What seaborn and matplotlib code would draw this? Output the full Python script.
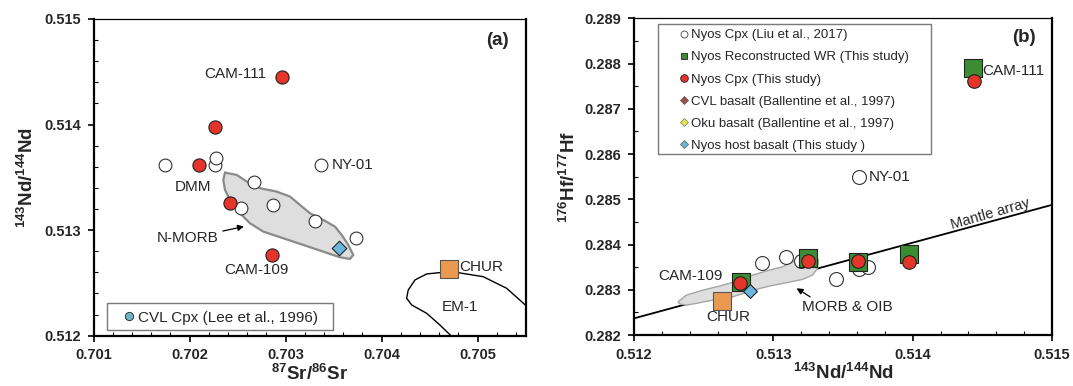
import numpy as np
import pandas as pd
import matplotlib
matplotlib.use("Agg")
import matplotlib.pyplot as plt
from matplotlib.lines import Line2D
from matplotlib.patches import Rectangle
from matplotlib.ticker import MultipleLocator, FormatStrFormatter
import seaborn as sns

# ---------------- Data: panel (a) Sr-Nd ----------------
a_liu_sr = [0.701743, 0.702264, 0.702271, 0.703365, 0.702670, 0.702531, 0.702865, 0.703308, 0.703732]
a_liu_nd = [0.513618, 0.513618, 0.513681, 0.513618, 0.513454, 0.513213, 0.513239, 0.513090, 0.512923]
a_cpx_sr = [0.702961, 0.702264, 0.702097, 0.702417, 0.702860]
a_cpx_nd = [0.514455, 0.513981, 0.513618, 0.513255, 0.512765]
a_host_sr = [0.703555]
a_host_nd = [0.512834]
a_chur_sr = [0.704701]
a_chur_nd = [0.512629]

# N-MORB field outline
nmorb_sr = [0.702368, 0.702490, 0.702594, 0.702732, 0.702906, 0.703045, 0.703149, 0.703253,
            0.703392, 0.703514, 0.703583, 0.703652, 0.703704, 0.703670, 0.703566, 0.703392,
            0.703183, 0.702975, 0.702767, 0.702628, 0.702524, 0.702420, 0.702368, 0.702350]
nmorb_nd = [0.513545, 0.513523, 0.513460, 0.513397, 0.513365, 0.513318, 0.513239, 0.513160,
            0.513097, 0.513033, 0.512955, 0.512860, 0.512765, 0.512727, 0.512743, 0.512796,
            0.512860, 0.512923, 0.512986, 0.513065, 0.513160, 0.513286, 0.513381, 0.513476]

# EM-1 curve
em1_sr = [0.704722, 0.704607, 0.704469, 0.704313, 0.704260, 0.704277, 0.704347, 0.704469,
          0.704600, 0.704701, 0.704798, 0.705058, 0.705302, 0.705500]
em1_nd = [0.512000, 0.512101, 0.512212, 0.512291, 0.512355, 0.512433, 0.512528, 0.512585,
          0.512597, 0.512600, 0.512597, 0.512559, 0.512449, 0.512288]

# ---------------- Data: panel (b) Nd-Hf ----------------
b_liu_nd = [0.513614, 0.512919, 0.513091, 0.513198, 0.513448, 0.513614, 0.513681]
b_liu_hf = [0.285493, 0.283595, 0.283727, 0.283639, 0.283229, 0.283449, 0.283507]
b_wr_nd = [0.514436, 0.513245, 0.512769, 0.513607, 0.513976]
b_wr_hf = [0.287908, 0.283692, 0.283176, 0.283610, 0.283787]
b_cpx_nd = [0.514443, 0.513250, 0.512764, 0.513607, 0.513971]
b_cpx_hf = [0.287625, 0.283639, 0.283140, 0.283632, 0.283617]
b_host_nd = [0.512834]
b_host_hf = [0.282977]
b_chur_nd = [0.512631]
b_chur_hf = [0.282757]

mantle_nd = [0.512000, 0.515000]
mantle_hf = [0.282368, 0.284877]

morb_nd = [0.512316, 0.512376, 0.512495, 0.512614, 0.512721, 0.512852, 0.512971, 0.513066,
           0.513138, 0.513186, 0.513234, 0.513293, 0.513324, 0.513316, 0.513281, 0.513209,
           0.513091, 0.512971, 0.512876, 0.512709, 0.512566, 0.512448, 0.512376, 0.512329]
morb_hf = [0.282735, 0.282882, 0.282993, 0.283081, 0.283176, 0.283324, 0.283434, 0.283507,
           0.283617, 0.283692, 0.283765, 0.283765, 0.283655, 0.283471, 0.283324, 0.283229,
           0.283154, 0.283081, 0.283008, 0.282845, 0.282772, 0.282699, 0.282662, 0.282684]

legend_b_labels = ["Nyos Cpx (Liu et al., 2017)", "Nyos Reconstructed WR (This study)",
                   "Nyos Cpx (This study)", "CVL basalt (Ballentine et al., 1997)",
                   "Oku basalt (Ballentine et al., 1997)", "Nyos host basalt (This study )"]
legend_a_label = "CVL Cpx (Lee et al., 1996)"

# ---------------- Style ----------------
sns.set_style("ticks")
plt.rcParams["font.family"] = ["Liberation Sans", "DejaVu Sans"]
plt.rcParams["mathtext.fontset"] = "custom"
plt.rcParams["mathtext.rm"] = "Liberation Sans"
plt.rcParams["mathtext.bf"] = "Liberation Sans:bold"
plt.rcParams["mathtext.it"] = "Liberation Sans:italic"

RED = "#E5352A"
GREEN = "#3C8C34"
ORANGE = "#E99A50"
BLUE = "#6BB6DD"
TEAL = "#6FB3C2"
BROWN = "#A34A4E"
YELLOW = "#E6E84A"
EDGE = "#222222"

fig = plt.figure(figsize=(10.73, 3.86), dpi=100)
axa = fig.add_axes([0.0873, 0.1303, 0.4026, 0.8205])
axb = fig.add_axes([0.5909, 0.1321, 0.3896, 0.8205])


def style_axes(ax, xmaj, xmin, ymaj, ymin):
    ax.xaxis.set_major_locator(MultipleLocator(xmaj))
    ax.xaxis.set_minor_locator(MultipleLocator(xmin))
    ax.yaxis.set_major_locator(MultipleLocator(ymaj))
    ax.yaxis.set_minor_locator(MultipleLocator(ymin))
    ax.xaxis.set_major_formatter(FormatStrFormatter("%.3f"))
    ax.yaxis.set_major_formatter(FormatStrFormatter("%.3f"))
    ax.tick_params(which="major", direction="out", length=4, width=1.2, labelsize=10.5, pad=5,
                   color="black")
    ax.tick_params(which="minor", direction="in", length=3, width=0.8, color="black")
    ax.tick_params(top=False, right=False, which="both")
    for lab in ax.get_xticklabels() + ax.get_yticklabels():
        lab.set_fontweight("bold")
    for s in ["left", "bottom", "right"]:
        ax.spines[s].set_linewidth(1.6)
        ax.spines[s].set_color("black")
        ax.spines[s].set_visible(True)
    ax.spines["top"].set_linewidth(0.9)
    ax.spines["top"].set_color("black")
    ax.spines["top"].set_visible(True)


def legend_box(ax, x0, y0, x1, y1):
    ax.add_patch(Rectangle((x0, y0), x1 - x0, y1 - y0, transform=ax.transAxes,
                           facecolor="white", edgecolor="#7A7A7A", lw=1.0, zorder=6))


# ---------------- Panel (a) ----------------
ax = axa
ax.set_xlim(0.701, 0.7055)
ax.set_ylim(0.512, 0.515)
ax.fill(nmorb_sr, nmorb_nd, facecolor="#DEDEDE", edgecolor="#8A8A8A", lw=1.6, zorder=1)
ax.plot(em1_sr, em1_nd, color="black", lw=1.0, zorder=1)
sns.scatterplot(x=a_liu_sr, y=a_liu_nd, ax=ax, marker="o", s=85, color="white",
                edgecolor="#333333", linewidth=0.8, zorder=3, legend=False)
sns.scatterplot(x=a_cpx_sr, y=a_cpx_nd, ax=ax, marker="o", s=90, color=RED,
                edgecolor=EDGE, linewidth=0.8, zorder=4, legend=False)
sns.scatterplot(x=a_host_sr, y=a_host_nd, ax=ax, marker="D", s=55, color=BLUE,
                edgecolor=EDGE, linewidth=0.8, zorder=4, legend=False)
sns.scatterplot(x=a_chur_sr, y=a_chur_nd, ax=ax, marker="s", s=180, color=ORANGE,
                edgecolor="#555555", linewidth=0.8, zorder=4, legend=False)

tfs = 11
ax.text(0.702802, 0.514481, "CAM-111", ha="right", va="center", fontsize=tfs)
ax.text(0.702034, 0.513409, "DMM", ha="center", va="center", fontsize=tfs)
ax.text(0.703479, 0.513618, "NY-01", ha="left", va="center", fontsize=tfs)
ax.text(0.701977, 0.512923, "N-MORB", ha="center", va="center", fontsize=tfs)
ax.annotate("", xy=(0.702594, 0.513040), xytext=(0.702318, 0.512986),
            arrowprops=dict(arrowstyle="-|>", color="black", lw=0.9, mutation_scale=9))
ax.text(0.702691, 0.512623, "CAM-109", ha="center", va="center", fontsize=tfs)
ax.text(0.704805, 0.512654, "CHUR", ha="left", va="center", fontsize=tfs)
ax.text(0.704816, 0.512269, "EM-1", ha="center", va="center", fontsize=tfs)
ax.text(0.96, 0.932, "(a)", transform=ax.transAxes, ha="right", va="center",
        fontsize=13.5, fontweight="bold")

legend_box(ax, 0.0315, 0.018, 0.5546, 0.1023)
h_a = [Line2D([], [], ls="", marker="o", ms=6, mfc=TEAL, mec=EDGE, mew=0.6)]
leg = ax.legend(h_a, [legend_a_label], loc="center left", bbox_to_anchor=(0.0676, 0.057),
                fontsize=11, frameon=False, borderpad=0, handlelength=0.8,
                handletextpad=0.2, borderaxespad=0)
leg.set_zorder(7)

style_axes(ax, 0.001, 0.0002, 0.001, 0.0002)
ax.set_xlabel(r"$\mathbf{^{87}Sr/^{86}Sr}$", fontsize=13.5, labelpad=1)
ax.set_ylabel(r"$\mathbf{^{143}Nd/^{144}Nd}$", fontsize=13.5, labelpad=5)

# ---------------- Panel (b) ----------------
ax = axb
ax.set_xlim(0.512, 0.515)
ax.set_ylim(0.282, 0.289)
ax.plot(mantle_nd, mantle_hf, color="black", lw=1.3, zorder=1)
ax.fill(morb_nd, morb_hf, facecolor="#DEDEDE", edgecolor="#A5A5A5", lw=1.0, zorder=2)
sns.scatterplot(x=b_liu_nd, y=b_liu_hf, ax=ax, marker="o", s=100, color="white",
                edgecolor="#333333", linewidth=0.8, zorder=3, legend=False)
sns.scatterplot(x=b_wr_nd, y=b_wr_hf, ax=ax, marker="s", s=150, color=GREEN,
                edgecolor=EDGE, linewidth=0.8, zorder=4, legend=False)
sns.scatterplot(x=b_cpx_nd, y=b_cpx_hf, ax=ax, marker="o", s=95, color=RED,
                edgecolor=EDGE, linewidth=0.8, zorder=5, legend=False)
sns.scatterplot(x=b_host_nd, y=b_host_hf, ax=ax, marker="D", s=50, color=BLUE,
                edgecolor=EDGE, linewidth=0.8, zorder=5, legend=False)
sns.scatterplot(x=b_chur_nd, y=b_chur_hf, ax=ax, marker="s", s=180, color=ORANGE,
                edgecolor="#555555", linewidth=0.8, zorder=5, legend=False)

ax.text(0.514502, 0.287846, "CAM-111", ha="left", va="center", fontsize=tfs)
ax.text(0.513686, 0.285486, "NY-01", ha="left", va="center", fontsize=tfs)
ax.text(0.512407, 0.283302, "CAM-109", ha="center", va="center", fontsize=tfs)
ax.text(0.512679, 0.282390, "CHUR", ha="center", va="center", fontsize=tfs)
ax.text(0.513529, 0.282624, "MORB & OIB", ha="center", va="center", fontsize=tfs)
ax.annotate("", xy=(0.513150, 0.283066), xytext=(0.513281, 0.282810),
            arrowprops=dict(arrowstyle="-|>", color="black", lw=0.9, mutation_scale=9))
ax.text(0.514555, 0.284680, "Mantle array", ha="center", va="center", fontsize=10.5,
        rotation=16, rotation_mode="anchor")
ax.text(0.96, 0.94, "(b)", transform=ax.transAxes, ha="right", va="center",
        fontsize=13.5, fontweight="bold")

legend_box(ax, 0.0581, 0.5715, 0.7098, 0.982)
h_b = [
    Line2D([], [], ls="", marker="o", ms=5, mfc="white", mec="#444444", mew=0.6),
    Line2D([], [], ls="", marker="s", ms=5, mfc=GREEN, mec=EDGE, mew=0.6),
    Line2D([], [], ls="", marker="o", ms=5.5, mfc=RED, mec=EDGE, mew=0.6),
    Line2D([], [], ls="", marker="D", ms=4, mfc=BROWN, mec="#555555", mew=0.5),
    Line2D([], [], ls="", marker="D", ms=4, mfc=YELLOW, mec="#777777", mew=0.5),
    Line2D([], [], ls="", marker="D", ms=4, mfc=BLUE, mec="#555555", mew=0.5),
]
leg = ax.legend(h_b, legend_b_labels, loc="center left", bbox_to_anchor=(0.107, 0.772),
                fontsize=9.5, frameon=False, borderpad=0, labelspacing=0.75,
                handlelength=0.8, handletextpad=0.13, borderaxespad=0)
leg.set_zorder(7)

style_axes(ax, 0.001, 0.0002, 0.001, 0.0005)
ax.set_xlabel(r"$\mathbf{^{143}Nd/^{144}Nd}$", fontsize=13.5, labelpad=1)
ax.set_ylabel(r"$\mathbf{^{176}Hf/^{177}Hf}$", fontsize=13.5, labelpad=4)

fig.savefig("out.png", dpi=100)
